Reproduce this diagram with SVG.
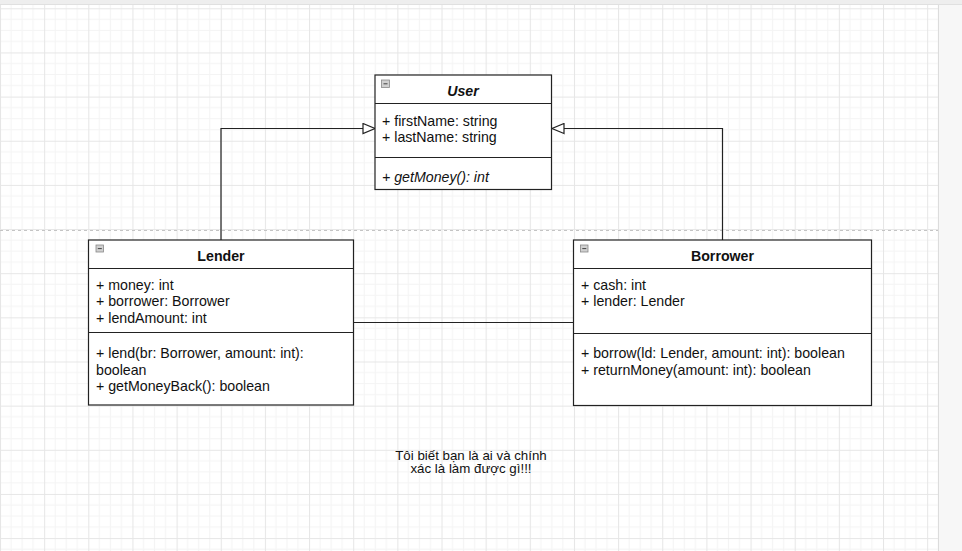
<svg xmlns="http://www.w3.org/2000/svg" width="962" height="551" viewBox="0 0 962 551">
<style>
.box{fill:#ffffff;stroke:#222;stroke-width:1.2}
.sep{stroke:#222;stroke-width:1.2;fill:none}
.t{font-family:"Liberation Sans",Arial,Helvetica,sans-serif;font-size:14.2px;fill:#111}
.ti{font-family:"Liberation Sans",Arial,Helvetica,sans-serif;font-size:14.2px;font-weight:bold;fill:#111;text-anchor:middle}
.cap{font-family:"Liberation Sans",Arial,Helvetica,sans-serif;font-size:13.3px;fill:#111;text-anchor:middle}
.edge{fill:none;stroke:#222;stroke-width:1.2}
.ico{fill:#d0d0d0;stroke:#888;stroke-width:0.8}
.icom{stroke:#444;stroke-width:1}
</style>
<defs>
<pattern id="grid" patternUnits="userSpaceOnUse" x="0" y="8.3" width="44.15" height="44.15">
<rect width="44.15" height="44.15" fill="#ffffff"/>
<path d="M11.04 0V44.15M22.08 0V44.15M33.11 0V44.15M0 11.04H44.15M0 22.08H44.15M0 33.11H44.15" stroke="#f4f4f4" stroke-width="1"/>
<path d="M0.5 0V44.15M0 0.5H44.15" stroke="#e6e6e6" stroke-width="1"/>
</pattern>
<marker id="inh" markerWidth="14" markerHeight="12" refX="13" refY="6" orient="auto" markerUnits="userSpaceOnUse">
<path d="M1 1L13 6L1 11Z" fill="#ffffff" stroke="#222" stroke-width="1.2"/>
</marker>
</defs>
<rect x="0" y="0" width="962" height="551" fill="#f7f7f7"/>
<rect x="0" y="5" width="938" height="546" fill="url(#grid)"/>
<rect x="0" y="0" width="962" height="4.5" fill="#eeeeee"/>
<line x1="0" y1="4.5" x2="962" y2="4.5" stroke="#e0e0e0"/>
<line x1="938.5" y1="5" x2="938.5" y2="551" stroke="#dcdcdc"/>
<line x1="0" y1="230.5" x2="938" y2="230.5" stroke="#c4c4c4" stroke-dasharray="3 3"/>

<g id="connectors">
<path class="edge" d="M221 240V128.5H375" marker-end="url(#inh)"/>
<path class="edge" d="M722.5 240V128.5H552" marker-end="url(#inh)"/>
<path class="edge" d="M353.5 322.5H573.5"/>
</g>

<g id="user">
<rect class="box" x="375" y="75" width="176.5" height="114.5"/>
<path class="sep" d="M375 103.5H551.5M375 157.5H551.5"/>
<rect class="ico" x="381.5" y="80" width="8" height="7.5"/>
<line class="icom" x1="383.5" y1="83.8" x2="387.5" y2="83.8"/>
<text class="ti" x="463" y="96" font-style="italic">User</text>
<text class="t" x="382" y="125.5">+ firstName: string</text>
<text class="t" x="382" y="142">+ lastName: string</text>
<text class="t" x="382" y="182" font-style="italic">+ getMoney(): int</text>
</g>

<g id="lender">
<rect class="box" x="88.5" y="240" width="265" height="165"/>
<path class="sep" d="M88.5 268.5H353.5M88.5 332.5H353.5"/>
<rect class="ico" x="96" y="245" width="7.5" height="7"/>
<line class="icom" x1="97.8" y1="248.6" x2="101.8" y2="248.6"/>
<text class="ti" x="221" y="260.5">Lender</text>
<text class="t" x="96" y="289.5">+ money: int</text>
<text class="t" x="96" y="306">+ borrower: Borrower</text>
<text class="t" x="96" y="323">+ lendAmount: int</text>
<text class="t" x="96" y="358">+ lend(br: Borrower, amount: int):</text>
<text class="t" x="96" y="374.5">boolean</text>
<text class="t" x="96" y="391">+ getMoneyBack(): boolean</text>
</g>

<g id="borrower">
<rect class="box" x="573.5" y="240" width="298" height="165.5"/>
<path class="sep" d="M573.5 268.5H871.5M573.5 333.5H871.5"/>
<rect class="ico" x="580.5" y="245" width="7.5" height="7"/>
<line class="icom" x1="582.3" y1="248.6" x2="586.3" y2="248.6"/>
<text class="ti" x="722.5" y="260.5">Borrower</text>
<text class="t" x="581" y="289.5">+ cash: int</text>
<text class="t" x="581" y="306">+ lender: Lender</text>
<text class="t" x="581" y="358">+ borrow(ld: Lender, amount: int): boolean</text>
<text class="t" x="581" y="374.5">+ returnMoney(amount: int): boolean</text>
</g>

<g id="caption">
<text class="cap" x="471" y="459.5">Tôi biết bạn là ai và chính</text>
<text class="cap" x="471" y="473">xác là làm được gì!!!</text>
</g>
</svg>
